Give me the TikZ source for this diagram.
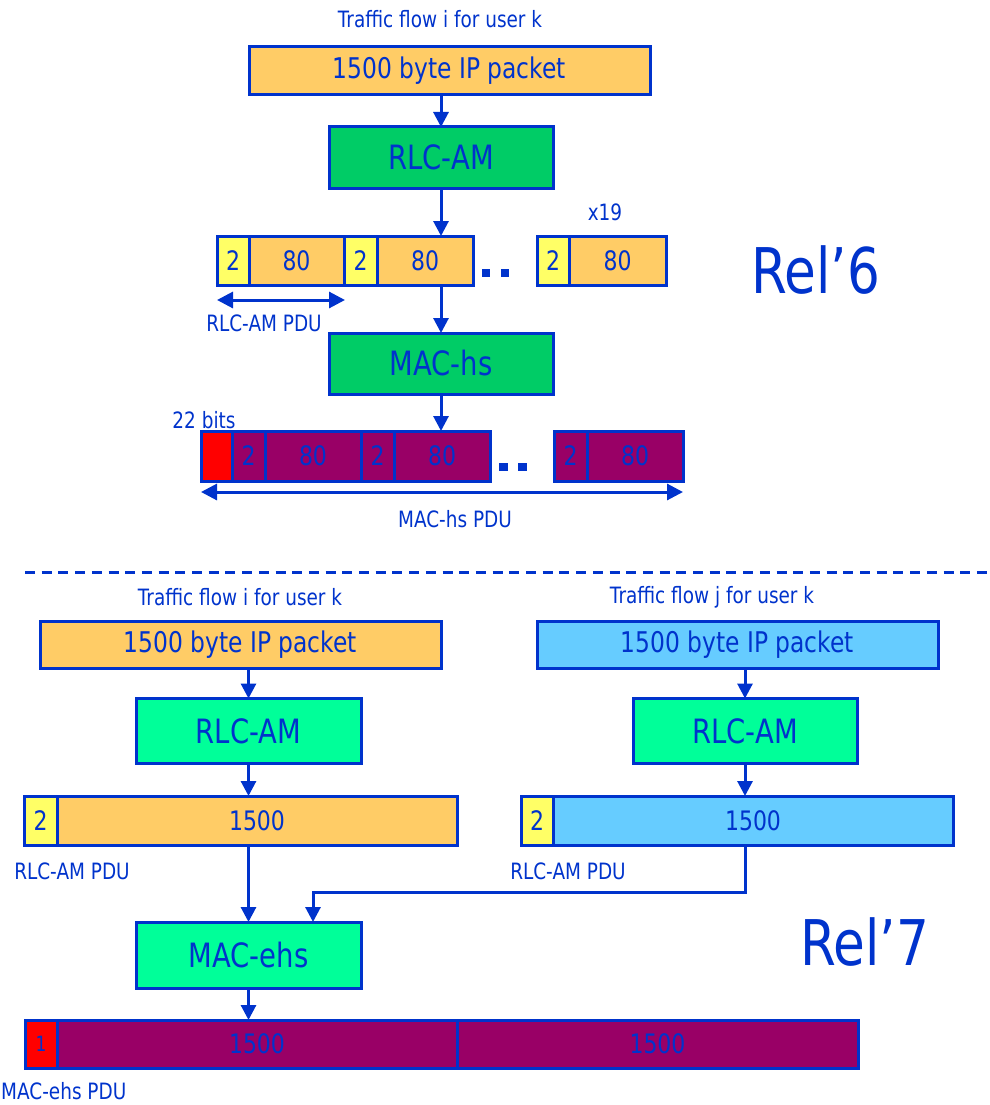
\documentclass[tikz,border=0pt]{standalone}
\usepackage{fontspec}
\setmainfont{DejaVu Sans}[FakeStretch=0.82]
\newfontfamily\relfont{DejaVu Sans}[FakeStretch=0.82]
\usetikzlibrary{arrows.meta}
\definecolor{ink}{RGB}{0,51,204}
\definecolor{pktorange}{RGB}{255,204,102}
\definecolor{hdryellow}{RGB}{255,255,102}
\definecolor{rlcgreen}{RGB}{0,204,102}
\definecolor{aqua}{RGB}{0,255,153}
\definecolor{skyblue}{RGB}{102,204,255}
\definecolor{plum}{RGB}{153,0,102}
\definecolor{hdrred}{RGB}{255,0,0}
\newcommand{\fsz}[1]{\fontsize{#1}{#1}\selectfont}
\tikzset{
  cell/.style={draw=ink, line width=3pt, text=ink, inner sep=0pt, outer sep=0pt,
               font=\fsz{26.8}},
  bigcell/.style={cell, font=\fsz{28.5}},
  layer/.style={cell, font=\fsz{33.5}},
  lbl/.style={text=ink, inner sep=0pt, font=\fsz{22.5}},
  rel/.style={text=ink, inner sep=0pt, font=\relfont\fsz{63}},
  flow/.style={draw=ink, line width=3pt, -{Triangle[width=15pt,length=15pt]}},
  span/.style={draw=ink, line width=3pt, {Triangle[width=16pt,length=16pt]}-{Triangle[width=16pt,length=16pt]}},
  dot/.style={fill=ink, minimum width=8.5pt, minimum height=8.5pt, inner sep=0pt}
}
\begin{document}
\begin{tikzpicture}[x=1pt,y=-1pt]
\useasboundingbox (0,0) rectangle (989,1105);

% ---------------- Release 6 ----------------
\node[lbl] (flow6) at (440,19) {Traffic flow i for user k};
\node[bigcell, fill=pktorange, minimum width=401pt, minimum height=48pt] (ip6) at (449.5,71) {1500 byte IP packet};
\node[layer, fill=rlcgreen, minimum width=224pt, minimum height=61pt] (rlc6) at (441,157.5) {RLC-AM};

% RLC-AM PDUs
\node[cell, fill=hdryellow, minimum width=32pt, minimum height=49pt] (h1) at (233,260.5) {2};
\node[cell, fill=pktorange, minimum width=95pt, minimum height=49pt] (s1) at (296.5,260.5) {80};
\node[cell, fill=hdryellow, minimum width=33pt, minimum height=49pt] (h2) at (360.5,260.5) {2};
\node[cell, fill=pktorange, minimum width=96pt, minimum height=49pt] (s2) at (425,260.5) {80};
\node[dot] (d1) at (486,273) {};
\node[dot] (d2) at (505,273) {};
\node[cell, fill=hdryellow, minimum width=32pt, minimum height=49pt] (h3) at (553,260.5) {2};
\node[cell, fill=pktorange, minimum width=97pt, minimum height=49pt] (s3) at (617.5,260.5) {80};
\node[lbl] (x19) at (605,212) {x19};

\coordinate (pduL) at (217,300);
\coordinate (pduR) at (345,300);
\draw[span] (pduL) -- (pduR);
\node[lbl] (pdu6) at (264,323) {RLC-AM PDU};

\node[layer, fill=rlcgreen, minimum width=224pt, minimum height=61pt] (mac6) at (441,363.5) {MAC-hs};

% MAC-hs PDU
\node[cell, fill=hdrred, minimum width=31pt, minimum height=50pt] (m0) at (216.5,456) {};
\node[cell, fill=plum, minimum width=33pt, minimum height=50pt] (m1) at (248.5,456) {2};
\node[cell, fill=plum, minimum width=96pt, minimum height=50pt] (m2) at (313,456) {80};
\node[cell, fill=plum, minimum width=33pt, minimum height=50pt] (m3) at (377.5,456) {2};
\node[cell, fill=plum, minimum width=96pt, minimum height=50pt] (m4) at (442,456) {80};
\node[dot] (d3) at (503.5,467) {};
\node[dot] (d4) at (522.5,467) {};
\node[cell, fill=plum, minimum width=33pt, minimum height=50pt] (m5) at (570.5,456) {2};
\node[cell, fill=plum, minimum width=96pt, minimum height=50pt] (m6) at (635,456) {80};
\node[lbl] (bits) at (204,420) {22 bits};

\coordinate (macL) at (201,492);
\coordinate (macR) at (683,492);
\draw[span] (macL) -- (macR);
\node[lbl] (macpdu6) at (455,519) {MAC-hs PDU};

\draw[flow] (rlc6.north |- ip6.south) -- (rlc6.north);
\draw[flow] (rlc6.south) -- (rlc6.south |- s2.north);
\draw[flow] (rlc6.south |- s2.south) -- (mac6.north);
\draw[flow] (mac6.south) -- (mac6.south |- m4.north);

\node[rel, anchor=base west] (rel6) at (751,293) {Rel’6};

% separator
\coordinate (sepL) at (25,572);
\coordinate (sepR) at (989,572);
\draw[ink, line width=3pt, dash pattern=on 10pt off 6.7pt] (sepL) -- (sepR);

% ---------------- Release 7 ----------------
\node[lbl] (flowi) at (240,597) {Traffic flow i for user k};
\node[lbl] (flowj) at (712,597) {Traffic flow j for user k};
\node[bigcell, fill=pktorange, minimum width=401pt, minimum height=47pt] (ipi) at (240.5,644.5) {1500 byte IP packet};
\node[bigcell, fill=skyblue, minimum width=401pt, minimum height=47pt] (ipj) at (737.5,644.5) {1500 byte IP packet};
\node[layer, fill=aqua, minimum width=225pt, minimum height=65pt] (rlci) at (248.5,731) {RLC-AM};
\node[layer, fill=aqua, minimum width=224pt, minimum height=65pt] (rlcj) at (745,731) {RLC-AM};

\node[cell, fill=hdryellow, minimum width=33pt, minimum height=49pt] (hi) at (40.5,820.5) {2};
\node[cell, fill=pktorange, minimum width=400pt, minimum height=49pt] (si) at (257,820.5) {1500};
\node[cell, fill=hdryellow, minimum width=32pt, minimum height=49pt] (hj) at (537,820.5) {2};
\node[cell, fill=skyblue, minimum width=400pt, minimum height=49pt] (sj) at (753,820.5) {1500};
\node[lbl] (pdui) at (72,871) {RLC-AM PDU};
\node[lbl] (pduj) at (568,871) {RLC-AM PDU};

\node[layer, fill=aqua, minimum width=225pt, minimum height=66pt] (mac7) at (248.5,955) {MAC-ehs};

\node[cell, fill=hdrred, minimum width=32pt, minimum height=48pt, font=\fsz{21}] (e0) at (41,1044) {1};
\node[cell, fill=plum, minimum width=400pt, minimum height=48pt] (e1) at (257,1044) {1500};
\node[cell, fill=plum, minimum width=401pt, minimum height=48pt] (e2) at (657.5,1044) {1500};
\node[lbl, anchor=west] (macpdu7) at (1,1091) {MAC-ehs PDU};

\draw[flow] (rlci.north |- ipi.south) -- (rlci.north);
\draw[flow] (rlcj.north |- ipj.south) -- (rlcj.north);
\draw[flow] (rlci.south) -- (rlci.south |- si.north);
\draw[flow] (rlcj.south) -- (rlcj.south |- sj.north);
\draw[flow] (rlci.south |- si.south) -- (rlci.south |- mac7.north);
\coordinate (bend) at (745,892);
\coordinate (drop) at (313,892);
\draw[flow] (rlcj.south |- sj.south) -- (bend) -- (drop) -- (drop |- mac7.north);
\draw[flow] (rlci.south |- mac7.south) -- (rlci.south |- e1.north);

\node[rel, anchor=base west] (rel7) at (800,965) {Rel’7};
\end{tikzpicture}
\end{document}
